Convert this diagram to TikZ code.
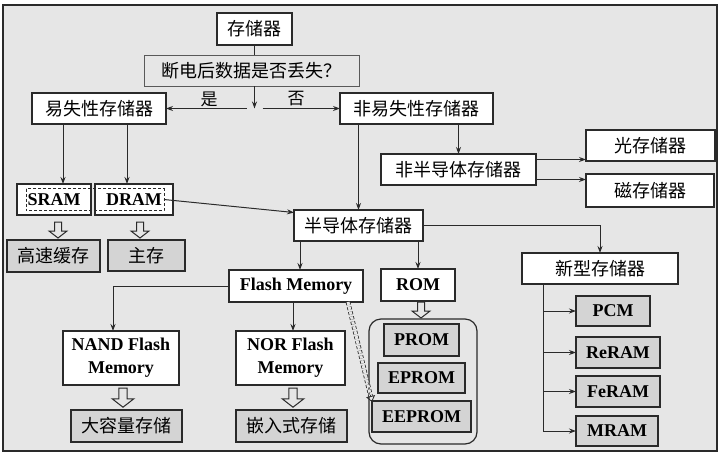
\documentclass[tikz,border=0pt]{standalone}
\usepackage{fontspec}
\setmainfont{Liberation Serif}
\newfontfamily\cjk{Noto Sans CJK SC}
\usetikzlibrary{arrows.meta,calc}
\definecolor{bg}{HTML}{E6E6E6}
\definecolor{leaf}{HTML}{D4D4D4}
\definecolor{ln}{HTML}{2A2A2A}
\tikzset{
  hollow/.pic={\draw[ln, line width=1pt, fill=bg] (-3.5,0) -- (3.5,0) -- (3.5,9) -- (9,9) -- (0,16) -- (-9,9) -- (-3.5,9) -- cycle;}
}
\begin{document}
\begin{tikzpicture}[x=1pt,y=-1pt,
  lnw/.style={draw=ln, line width=1pt},
  arr/.style={draw=ln, line width=1pt, -{Stealth[length=7pt,width=5pt]}},
  bx/.style n args={2}{minimum width=#1pt, minimum height=#2pt, inner sep=0pt, outer sep=0pt},
  wb/.style={draw=ln, line width=1.2pt, fill=white},
  gb/.style={draw=ln, line width=1.2pt, fill=leaf},
  cn/.style={font=\cjk\fontsize{18}{20}\selectfont, text=black},
  en/.style={font=\bfseries\fontsize{18}{20}\selectfont, text=black},
  en2/.style={font=\bfseries\fontsize{18}{23}\selectfont, text=black, align=center},
]
\useasboundingbox (0,0) rectangle (723,456);
\fill[white] (0,0) rectangle (723,456);
\draw[ln, line width=1.6pt, fill=bg] (3,5) rectangle (717,451);

% nodes
\node[wb,bx={75}{32},cn] (mem) at (254.5,29) {存储器};
\node[draw=gray!70!black, line width=0.8pt, fill=bg, bx={215}{31}, cn] (q) at (251.5,70.5) {断电后数据是否丢失？};
\node[wb,bx={134}{31},cn] (vol) at (99,108.5) {易失性存储器};
\node[wb,bx={153}{31},cn] (nvol) at (416.5,108.5) {非易失性存储器};
\node[wb,bx={74}{31},en] (sram) at (54,199.5) {SRAM};
\node[wb,bx={78}{31},en] (dram) at (134,199.5) {DRAM};
\node[gb,bx={93}{32},cn] (cache) at (53.5,256) {高速缓存};
\node[gb,bx={77}{31},cn] (mainm) at (146.5,255.5) {主存};
\node[wb,bx={129}{31},cn] (semi) at (358.5,225.5) {半导体存储器};
\node[wb,bx={155}{31},cn] (nsemi) at (458.5,169.5) {非半导体存储器};
\node[wb,bx={129}{31},cn] (opt) at (650.5,145.5) {光存储器};
\node[wb,bx={128}{33},cn] (mag) at (650,190.5) {磁存储器};
\node[wb,bx={134}{32},en] (flash) at (296,286) {Flash Memory};
\node[wb,bx={74}{32},en] (rom) at (418,285) {ROM};
\node[wb,bx={156}{31},cn] (new) at (600,268.5) {新型存储器};
\node[wb,bx={116}{54},en2] (nand) at (121,358) {NAND Flash\\Memory};
\node[wb,bx={109}{54},en2] (nor) at (290.5,358) {NOR Flash\\Memory};
\node[gb,bx={111}{32},cn] (bigs) at (126.5,426) {大容量存储};
\node[gb,bx={111}{32},cn] (embs) at (291.5,426) {嵌入式存储};
\node[draw=ln, line width=1.2pt, rounded corners=12pt, fill=bg, bx={108}{125}] (romg) at (423,381.5) {};
\node[gb,bx={75}{32},en] (prom) at (421.5,340) {PROM};
\node[gb,bx={87}{30},en] (eprom) at (421.5,378) {EPROM};
\node[gb,bx={99}{31},en] (eeprom) at (421.5,416.5) {EEPROM};
\node[gb,bx={74}{30},en] (pcm) at (613,311) {PCM};
\node[gb,bx={84}{31},en] (reram) at (618,352.5) {ReRAM};
\node[gb,bx={84}{31},en] (feram) at (618,391.5) {FeRAM};
\node[gb,bx={82}{30},en] (mram) at (617,431) {MRAM};

% dashed frame round SRAM / DRAM
\draw[ln, line width=1pt, dash pattern=on 3pt off 2pt] ($(sram.west)+(9,-11)$) rectangle ($(dram.east)+(-9,11)$);

% yes / no
\coordinate (jn) at (mem.south |- vol.east);
\node[cn, font=\cjk\fontsize{17}{20}\selectfont] (yes) at (209,99) {是};
\node[cn, font=\cjk\fontsize{17}{20}\selectfont] (no) at (296,99) {否};
\draw[lnw] (mem.south) -- (mem.south |- q.north);
\draw[arr] (mem.south |- q.south) -- (jn);
\draw[arr] ([xshift=-8pt]jn) -- (vol.east);
\draw[arr] ([xshift=8pt]jn) -- (nvol.west);

% volatile
\draw[arr] ([xshift=-36pt]vol.south) -- ([xshift=9pt]sram.north);
\draw[arr] ([xshift=28pt]vol.south) -- ([xshift=-7pt]dram.north);
\pic at ($(sram.south)+(4,7)$) {hollow};
\pic at ($(dram.south)+(6,7)$) {hollow};
\draw[arr] ([xshift=-9pt]dram.east) -- ([yshift=13pt]semi.west);

% non-volatile
\draw[arr] (semi.north |- nvol.south) -- (semi.north);
\draw[arr] (nsemi.north |- nvol.south) -- (nsemi.north);
\draw[arr] ([yshift=10pt]nsemi.east) -- ([yshift=10pt]nsemi.east -| opt.west);
\draw[arr] ([yshift=-10pt]nsemi.east) -- ([yshift=-10pt]nsemi.east -| mag.west);

% semiconductor
\draw[arr] (semi.east) -| (new.north);
\draw[arr] ([xshift=4pt]flash.north |- semi.south) -- ([xshift=4pt]flash.north);
\draw[arr] (rom.north |- semi.south) -- (rom.north);
\draw[arr] (flash.west) -| ([xshift=-8pt]nand.north);
\draw[arr] ([xshift=2.5pt]nor.north |- flash.south) -- ([xshift=2.5pt]nor.north);
\pic[scale=1.2] at ($(nand.south)+(2,3)$) {hollow};
\pic[scale=1.2] at ($(nor.south)+(2.5,3)$) {hollow};
\pic at ($(rom.south)+(3,1)$) {hollow};

% dashed double arrow
\coordinate (ds) at ([xshift=-15pt]flash.south east);
\coordinate (de) at ([yshift=-1pt]eeprom.north west);
\draw[ln, dash pattern=on 3pt off 2pt, double=bg, double distance=3pt, line width=0.8pt, shorten >=6pt] (ds) -- (de);
\draw[ln, line width=0.8pt, -{Triangle[open,length=6pt,width=9pt]}] ($(de)!7pt!(ds)$) -- (de);

% new memories
\coordinate (trunk) at ([xshift=-57pt]new.south);
\draw[arr] (trunk) |- (mram.west);
\draw[arr] (trunk |- pcm.west) -- (pcm.west);
\draw[arr] (trunk |- reram.west) -- (reram.west);
\draw[arr] (trunk |- feram.west) -- (feram.west);
\end{tikzpicture}
\end{document}
